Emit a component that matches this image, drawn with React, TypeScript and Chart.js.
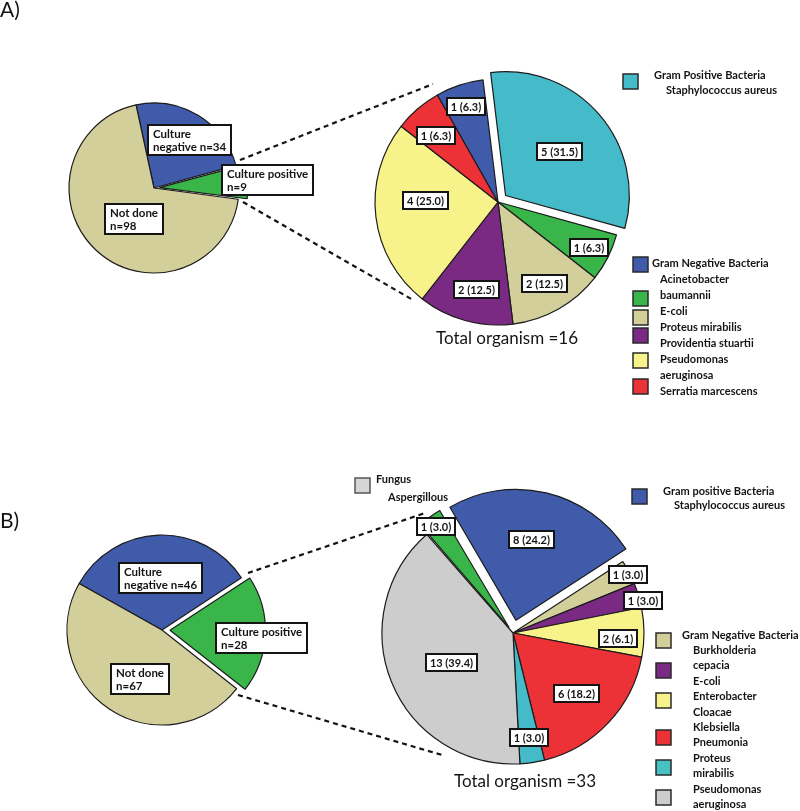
import React, { useEffect, useRef } from 'react';
import { Chart, registerables } from 'chart.js';

Chart.register(...registerables);

const W = 800;
const H = 811;
const FONT = 'Lato, "Open Sans", "DejaVu Sans", sans-serif';
const INK = '#141414';

const BLUE = '#3f5ba9';
const GREEN = '#3ab54a';
const TAN = '#d3cf9b';
const CYAN = '#45bac8';
const PURPLE = '#7b2a83';
const YELLOW = '#f7f38a';
const RED = '#ed3237';
const GRAY = '#cdcdcd';
const TEAL = '#47c1c1';
const FUNGUS = '#d6d6d6';

// ---------- Panel A : samples ----------
const categoriesA = ['Culture negative', 'Culture positive', 'Not done'];
const countsA = [34, 9, 98];
const sliceTextA = ['Culture\nnegative n=34', 'Culture positive\nn=9', 'Not done\nn=98'];
const colorsA = [BLUE, GREEN, TAN];

// ---------- Panel A : organisms ----------
const organismsA = ['Staphylococcus aureus', 'Acinetobacter baumannii', 'E-coli', 'Proteus mirabilis', 'Pseudomonas aeruginosa', 'Serratia marcescens', 'Providentia stuartii'];
const organismCountsA = [5, 1, 2, 2, 4, 1, 1];
const organismPctA = ['31.5', '6.3', '12.5', '12.5', '25.0', '6.3', '6.3'];
const organismColorsA = [CYAN, GREEN, TAN, PURPLE, YELLOW, RED, BLUE];
const totalA = 16;

// ---------- Panel B : samples ----------
const categoriesB = ['Culture negative', 'Culture positive', 'Not done'];
const countsB = [46, 28, 67];
const sliceTextB = ['Culture\nnegative n=46', 'Culture positive\nn=28', 'Not done\nn=67'];
const colorsB = [BLUE, GREEN, TAN];

// ---------- Panel B : organisms ----------
const organismsB = ['Staphylococcus aureus', 'Burkholderia cepacia', 'E-coli', 'Enterobacter Cloacae', 'Klebsiella Pneumonia', 'Proteus mirabilis', 'Pseudomonas aeruginosa', 'Aspergillous'];
const organismCountsB = [8, 1, 1, 2, 6, 1, 13, 1];
const organismPctB = ['24.2', '3.0', '3.0', '6.1', '18.2', '3.0', '39.4', '3.0'];
const organismColorsB = [BLUE, TAN, PURPLE, YELLOW, RED, CYAN, GRAY, GREEN];
const totalB = 33;

// ---------- Legend texts ----------
const legendPosA = ['Gram Positive Bacteria', 'Staphylococcus aureus'];
const legendNegA = ['Gram Negative Bacteria', 'Acinetobacter', 'baumannii', 'E-coli', 'Proteus mirabilis', 'Providentia stuartii', 'Pseudomonas', 'aeruginosa', 'Serratia marcescens'];
const legendNegBoxesA = [BLUE, GREEN, TAN, PURPLE, YELLOW, RED];
const legendPosB = ['Gram positive Bacteria', 'Staphylococcus aureus'];
const legendFungusB = ['Fungus', 'Aspergillous'];
const legendNegB = ['Gram Negative Bacteria', 'Burkholderia', 'cepacia', 'E-coli', 'Enterobacter', 'Cloacae', 'Klebsiella', 'Pneumonia', 'Proteus', 'mirabilis', 'Pseudomonas', 'aeruginosa'];
const legendNegBoxesB = [TAN, PURPLE, YELLOW, RED, TEAL, GRAY];

type PieSpec = {
  names: string[];
  values: number[];
  texts: string[];
  colors: string[];
  offsets: number[];
  cx: number;
  cy: number;
  r: number;
  rotation: number;
  labelFrac: number[];
  labelTurn: number[];
  kind: 'category' | 'value';
  extra?: (ctx: CanvasRenderingContext2D) => void;
};

function drawBox(ctx: CanvasRenderingContext2D, text: string, x: number, y: number, kind: 'category' | 'value') {
  const lines = text.split('\n');
  const size = kind === 'category' ? 11.5 : 11;
  const lh = 13;
  const padX = kind === 'category' ? 5 : 4;
  const padY = 2;
  ctx.save();
  ctx.font = `bold ${size}px ${FONT}`;
  const tw = Math.max(...lines.map((l) => ctx.measureText(l).width));
  const w = Math.round(tw + padX * 2);
  const h = lines.length * lh + padY * 2;
  const left = Math.round(x - w / 2);
  const top = Math.round(y - h / 2);
  ctx.fillStyle = '#fff';
  ctx.fillRect(left, top, w, h);
  ctx.lineWidth = 2;
  ctx.strokeStyle = INK;
  ctx.strokeRect(left, top, w, h);
  ctx.fillStyle = INK;
  ctx.textBaseline = 'middle';
  lines.forEach((l, i) => {
    const ty = top + padY + lh * (i + 0.5) + 0.5;
    if (kind === 'value') {
      ctx.textAlign = 'center';
      ctx.fillText(l, left + w / 2, ty);
    } else {
      ctx.textAlign = 'left';
      ctx.fillText(l, left + padX, ty);
    }
  });
  ctx.restore();
}

function legendBox(ctx: CanvasRenderingContext2D, x: number, y: number, color: string, border = '#2a2a2a') {
  ctx.save();
  ctx.fillStyle = color;
  ctx.fillRect(x, y, 15, 15);
  ctx.lineWidth = 1.5;
  ctx.strokeStyle = border;
  ctx.strokeRect(x, y, 15, 15);
  ctx.restore();
}

function legendText(ctx: CanvasRenderingContext2D, t: string, x: number, y: number) {
  ctx.save();
  ctx.font = `bold 11px ${FONT}`;
  ctx.fillStyle = INK;
  ctx.textAlign = 'left';
  ctx.textBaseline = 'middle';
  ctx.fillText(t, x, y);
  ctx.restore();
}

function dashed(ctx: CanvasRenderingContext2D, x1: number, y1: number, x2: number, y2: number) {
  ctx.save();
  ctx.strokeStyle = INK;
  ctx.lineWidth = 2.2;
  ctx.setLineDash([5, 4]);
  ctx.beginPath();
  ctx.moveTo(x1, y1);
  ctx.lineTo(x2, y2);
  ctx.stroke();
  ctx.restore();
}

function plainText(ctx: CanvasRenderingContext2D, t: string, x: number, y: number, size: number, align: CanvasTextAlign) {
  ctx.save();
  ctx.font = `${size}px ${FONT}`;
  ctx.fillStyle = INK;
  ctx.textAlign = align;
  ctx.textBaseline = 'alphabetic';
  ctx.fillText(t, x, y);
  ctx.restore();
}

const specs: PieSpec[] = [
  {
    names: categoriesA,
    values: countsA,
    texts: sliceTextA,
    colors: colorsA,
    offsets: [0, 22, 0],
    cx: 154,
    cy: 188,
    r: 85,
    rotation: -12.2,
    labelFrac: [0.7, 1.34, 0.43],
    labelTurn: [5.8, 0, -10.3],
    kind: 'category',
    extra: (ctx) => {
      plainText(ctx, 'A)', 0, 17, 21, 'left');
      dashed(ctx, 240, 160, 433, 84);
      dashed(ctx, 243, 202, 413, 300);
    },
  },
  {
    names: organismsA,
    values: organismCountsA,
    texts: organismCountsA.map((v, i) => `${v} (${organismPctA[i]})`),
    colors: organismColorsA,
    offsets: [40, 0, 0, 0, 0, 0, 0],
    cx: 498,
    cy: 202,
    r: 123,
    rotation: -7,
    labelFrac: [0.65, 0.83, 0.76, 0.73, 0.59, 0.74, 0.82],
    labelTurn: [1.3, 0, 0, -1.4, 7.8, -2, 0],
    kind: 'value',
    extra: (ctx) => {
      plainText(ctx, `Total organism =${totalA}`, 507, 344, 17, 'center');
      legendBox(ctx, 623, 74, CYAN);
      legendText(ctx, legendPosA[0], 654, 75);
      legendText(ctx, legendPosA[1], 666, 90);
      const boxTops = [257, 291, 310, 328, 353, 379];
      legendNegBoxesA.forEach((c, i) => legendBox(ctx, 633, boxTops[i], c));
      legendNegA.forEach((t, i) => legendText(ctx, t, i === 0 ? 652 : 660, 263 + i * 16));
    },
  },
  {
    names: categoriesB,
    values: countsB,
    texts: sliceTextB,
    colors: colorsB,
    offsets: [0, 32, 0],
    cx: 162,
    cy: 630,
    r: 95,
    rotation: -60.75,
    labelFrac: [0.55, 1.05, 0.57],
    labelTurn: [0.3, 1.9, -9.5],
    kind: 'category',
    extra: (ctx) => {
      plainText(ctx, 'B)', 0, 528, 21, 'left');
      dashed(ctx, 248, 573, 425, 513);
      dashed(ctx, 238, 695, 442, 755);
    },
  },
  {
    names: organismsB,
    values: organismCountsB,
    texts: organismCountsB.map((v, i) => `${v} (${organismPctB[i]})`),
    colors: organismColorsB,
    offsets: [52, 0, 0, 0, 0, 0, 0, 26],
    cx: 513,
    cy: 633,
    r: 131,
    rotation: -30.3,
    labelFrac: [0.73, 0.98, 1.02, 0.8, 0.67, 0.81, 0.52, 1.0],
    labelTurn: [-2.1, 0.7, 2.4, 3.1, 0, 0, -3.3, 0],
    kind: 'value',
    extra: (ctx) => {
      plainText(ctx, `Total organism =${totalB}`, 525, 787, 17, 'center');
      legendBox(ctx, 355, 478, FUNGUS, '#555');
      legendText(ctx, legendFungusB[0], 376, 479);
      legendText(ctx, legendFungusB[1], 388, 497);
      legendBox(ctx, 632, 489, BLUE);
      legendText(ctx, legendPosB[0], 663, 491);
      legendText(ctx, legendPosB[1], 674, 505);
      const boxTops = [633, 663, 693, 730, 760, 790];
      legendNegBoxesB.forEach((c, i) => legendBox(ctx, 656, boxTops[i], c));
      legendNegB.forEach((t, i) => legendText(ctx, t, i === 0 ? 682 : 693, 635 + i * 15.4));
    },
  },
];

function makeChart(canvas: HTMLCanvasElement, spec: PieSpec) {
  const s = Math.min(spec.cx, W - spec.cx, spec.cy, H - spec.cy) - 1;
  const labelPlugin = {
    id: 'sliceLabels',
    afterDraw(chart: any) {
      const ctx: CanvasRenderingContext2D = chart.ctx;
      spec.extra && spec.extra(ctx);
      const meta = chart.getDatasetMeta(0);
      meta.data.forEach((el: any, i: number) => {
        const mid = (el.startAngle + el.endAngle) / 2 + (spec.labelTurn[i] * Math.PI) / 180;
        const d = spec.r * spec.labelFrac[i];
        const x = el.x + Math.cos(mid) * d;
        const y = el.y + Math.sin(mid) * d;
        drawBox(ctx, spec.texts[i], x, y, spec.kind);
      });
    },
  };
  return new Chart(canvas, {
    type: 'pie',
    data: {
      labels: spec.names,
      datasets: [
        {
          data: spec.values,
          backgroundColor: spec.colors,
          borderColor: '#1c1c1c',
          borderWidth: 1.2,
          offset: spec.offsets,
          radius: spec.r,
          rotation: spec.rotation,
        } as any,
      ],
    },
    options: {
      responsive: false,
      animation: false,
      events: [],
      radius: spec.r,
      rotation: spec.rotation,
      layout: {
        padding: {
          left: spec.cx - s,
          right: W - spec.cx - s,
          top: spec.cy - s,
          bottom: H - spec.cy - s,
        },
      },
      plugins: {
        legend: { display: false },
        tooltip: { enabled: false },
        title: { display: false },
      },
    } as any,
    plugins: [labelPlugin],
  });
}

export default function App() {
  const refs = [useRef<HTMLCanvasElement>(null), useRef<HTMLCanvasElement>(null), useRef<HTMLCanvasElement>(null), useRef<HTMLCanvasElement>(null)];
  useEffect(() => {
    const charts = specs.map((sp, i) => makeChart(refs[i].current as HTMLCanvasElement, sp));
    return () => charts.forEach((c) => c.destroy());
  }, []);
  return (
    <div style={{ position: 'absolute', left: 0, top: 0, width: W, height: H, background: '#fff', overflow: 'hidden' }}>
      {refs.map((r, i) => (
        <canvas key={i} ref={r} width={W} height={H} style={{ position: 'absolute', left: 0, top: 0, width: W, height: H }} />
      ))}
    </div>
  );
}
